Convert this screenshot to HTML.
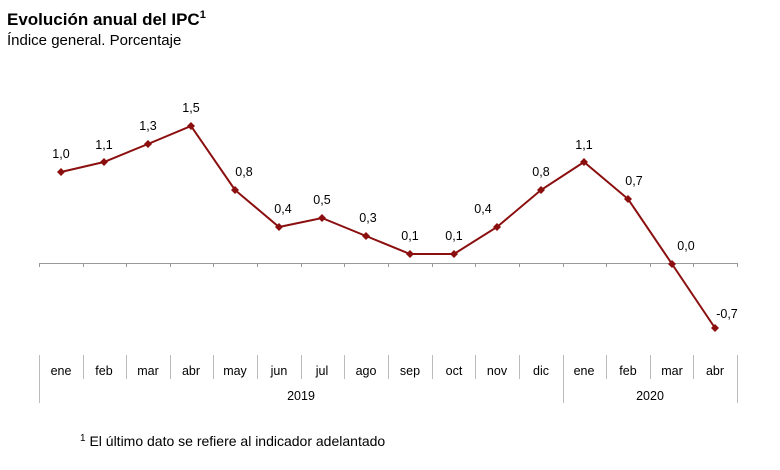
<!DOCTYPE html>
<html><head><meta charset="utf-8"><style>
body{margin:0;background:#fff;}
svg{display:block;font-family:"Liberation Sans",Arial,sans-serif;}
</style></head><body>
<svg width="780" height="470" viewBox="0 0 780 470" xmlns="http://www.w3.org/2000/svg">
<text x="7" y="25" font-size="17" font-weight="bold" fill="#000">Evolución anual del IPC<tspan font-size="11" dy="-7">1</tspan></text>
<text x="7" y="45" font-size="15" fill="#000">Índice general. Porcentaje</text>
<line x1="39" y1="263.5" x2="738" y2="263.5" stroke="#999" stroke-width="1"/>
<g stroke="#999" stroke-width="1">
<line x1="39.5" y1="263" x2="39.5" y2="267"/><line x1="83.5" y1="263" x2="83.5" y2="267"/><line x1="126.5" y1="263" x2="126.5" y2="267"/><line x1="170.5" y1="263" x2="170.5" y2="267"/><line x1="213.5" y1="263" x2="213.5" y2="267"/><line x1="257.5" y1="263" x2="257.5" y2="267"/><line x1="301.5" y1="263" x2="301.5" y2="267"/><line x1="344.5" y1="263" x2="344.5" y2="267"/><line x1="388.5" y1="263" x2="388.5" y2="267"/><line x1="432.5" y1="263" x2="432.5" y2="267"/><line x1="475.5" y1="263" x2="475.5" y2="267"/><line x1="519.5" y1="263" x2="519.5" y2="267"/><line x1="563.5" y1="263" x2="563.5" y2="267"/><line x1="606.5" y1="263" x2="606.5" y2="267"/><line x1="650.5" y1="263" x2="650.5" y2="267"/><line x1="693.5" y1="263" x2="693.5" y2="267"/><line x1="737.5" y1="263" x2="737.5" y2="267"/>
</g>
<g stroke="#bbb" stroke-width="1">
<line x1="39.5" y1="355" x2="39.5" y2="403"/><line x1="83.5" y1="355" x2="83.5" y2="379"/><line x1="126.5" y1="355" x2="126.5" y2="379"/><line x1="170.5" y1="355" x2="170.5" y2="379"/><line x1="213.5" y1="355" x2="213.5" y2="379"/><line x1="257.5" y1="355" x2="257.5" y2="379"/><line x1="301.5" y1="355" x2="301.5" y2="379"/><line x1="344.5" y1="355" x2="344.5" y2="379"/><line x1="388.5" y1="355" x2="388.5" y2="379"/><line x1="432.5" y1="355" x2="432.5" y2="379"/><line x1="475.5" y1="355" x2="475.5" y2="379"/><line x1="519.5" y1="355" x2="519.5" y2="379"/><line x1="563.5" y1="355" x2="563.5" y2="403"/><line x1="606.5" y1="355" x2="606.5" y2="379"/><line x1="650.5" y1="355" x2="650.5" y2="379"/><line x1="693.5" y1="355" x2="693.5" y2="379"/><line x1="737.5" y1="355" x2="737.5" y2="403"/>
</g>
<g font-size="12.5" fill="#000" text-anchor="middle">
<text x="61" y="375">ene</text><text x="104" y="375">feb</text><text x="148" y="375">mar</text><text x="191" y="375">abr</text><text x="235" y="375">may</text><text x="279" y="375">jun</text><text x="322" y="375">jul</text><text x="366" y="375">ago</text><text x="410" y="375">sep</text><text x="454" y="375">oct</text><text x="497" y="375">nov</text><text x="541" y="375">dic</text><text x="584" y="375">ene</text><text x="628" y="375">feb</text><text x="672" y="375">mar</text><text x="715" y="375">abr</text>
<text x="301" y="400">2019</text><text x="650" y="400">2020</text>
</g>
<polyline fill="none" stroke="#8B0F0F" stroke-width="2" points="61,172 104,162 148,144 191,126 235,190 279,227 322,218 366,236 410,254 454,254 497,227 541,190 584,162 628,199 672,264 715,328"/>
<g fill="#8B0F0F">
<path d="M61,168l4,4l-4,4l-4,-4z"/><path d="M104,158l4,4l-4,4l-4,-4z"/><path d="M148,140l4,4l-4,4l-4,-4z"/><path d="M191,122l4,4l-4,4l-4,-4z"/><path d="M235,186l4,4l-4,4l-4,-4z"/><path d="M279,223l4,4l-4,4l-4,-4z"/><path d="M322,214l4,4l-4,4l-4,-4z"/><path d="M366,232l4,4l-4,4l-4,-4z"/><path d="M410,250l4,4l-4,4l-4,-4z"/><path d="M454,250l4,4l-4,4l-4,-4z"/><path d="M497,223l4,4l-4,4l-4,-4z"/><path d="M541,186l4,4l-4,4l-4,-4z"/><path d="M584,158l4,4l-4,4l-4,-4z"/><path d="M628,195l4,4l-4,4l-4,-4z"/><path d="M672,260l4,4l-4,4l-4,-4z"/><path d="M715,324l4,4l-4,4l-4,-4z"/>
</g>
<g font-size="12.5" fill="#000" text-anchor="middle">
<text x="61" y="158">1,0</text><text x="104" y="149">1,1</text><text x="148" y="130">1,3</text><text x="191" y="112">1,5</text><text x="244" y="176">0,8</text><text x="283" y="213">0,4</text><text x="322" y="204">0,5</text><text x="368" y="222">0,3</text><text x="410" y="240">0,1</text><text x="454" y="240">0,1</text><text x="483" y="213">0,4</text><text x="541" y="176">0,8</text><text x="584" y="149">1,1</text><text x="634" y="185">0,7</text><text x="686" y="250">0,0</text><text x="727" y="318">-0,7</text>
</g>
<text x="80" y="446" font-size="14" fill="#000"><tspan font-size="10" dy="-5">1</tspan><tspan dy="5"> El último dato se refiere al indicador adelantado</tspan></text>
</svg>
</body></html>
